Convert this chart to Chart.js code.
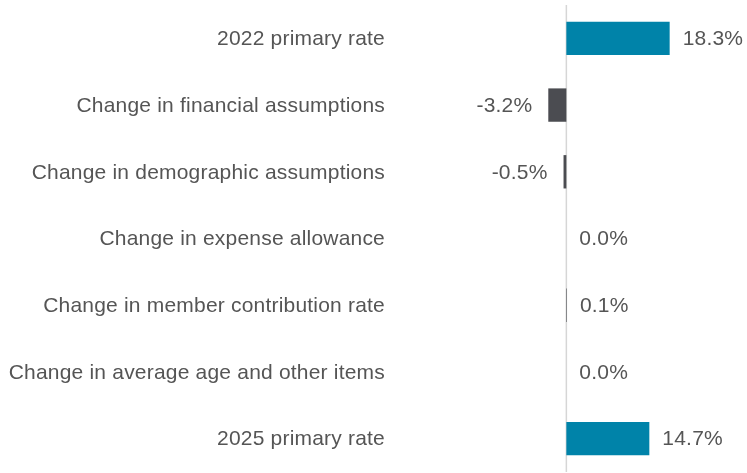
<!DOCTYPE html>
<html>
<head>
<meta charset="utf-8">
<script src="https://cdn.jsdelivr.net/npm/chart.js@4"></script>
<style>
  html, body { margin: 0; padding: 0; background: #fff; }
  #wrap { position: relative; width: 747px; height: 473px; }
</style>
</head>
<body>
<div id="wrap"><canvas id="chart"></canvas></div>
<script>
// ── data ──
const categories = [
  '2022 primary rate',
  'Change in financial assumptions',
  'Change in demographic assumptions',
  'Change in expense allowance',
  'Change in member contribution rate',
  'Change in average age and other items',
  '2025 primary rate'
]
const values = [18.3, -3.2, -0.5, 0.0, 0.1, 0.0, 14.7]
const totalRows = [0, 6]

const TEAL = '#0083a9'
const DARK = '#4b4c51'
const TEXT = '#555555'
const FONT = '21px "Liberation Sans", Arial, sans-serif'

// zero line, category labels and value labels
const decor = {
  id: 'decor',
  beforeDatasetsDraw(chart) {
    const { ctx, chartArea } = chart
    const x0 = chart.scales.x.getPixelForValue(0)
    ctx.save()
    ctx.strokeStyle = '#d6d6d6'
    ctx.lineWidth = 1.5
    ctx.beginPath()
    ctx.moveTo(x0, chartArea.top)
    ctx.lineTo(x0, chartArea.bottom)
    ctx.stroke()
    ctx.restore()
  },
  afterDatasetsDraw(chart) {
    const { ctx, chartArea } = chart
    const y = chart.scales.y
    const x0 = chart.scales.x.getPixelForValue(0)
    const meta = chart.getDatasetMeta(0)
    ctx.save()
    ctx.font = FONT
    ctx.letterSpacing = '0.2px'
    ctx.fillStyle = TEXT
    ctx.textBaseline = 'middle'
    categories.forEach((c, i) => {
      ctx.textAlign = 'right'
      ctx.fillText(c, chartArea.left - 12, y.getPixelForValue(i) + 1)
    })
    meta.data.forEach((bar, i) => {
      const v = values[i]
      const txt = v.toFixed(1) + '%'
      if (v < 0) {
        ctx.textAlign = 'right'
        ctx.fillText(txt, Math.min(bar.x, x0) - 16, bar.y + 1)
      } else {
        ctx.textAlign = 'left'
        ctx.fillText(txt, Math.max(bar.x, x0) + 13, bar.y + 1)
      }
    })
    ctx.restore()
  }
}

new Chart(document.getElementById('chart'), {
  type: 'bar',
  data: {
    labels: categories,
    datasets: [{
      data: values,
      backgroundColor: values.map((_, i) => totalRows.includes(i) ? TEAL : DARK),
      borderWidth: 0,
      barPercentage: 0.5,
      categoryPercentage: 1
    }]
  },
  options: {
    indexAxis: 'y',
    responsive: true, maintainAspectRatio: false,
    animation: false,
    layout: { padding: { top: 5, bottom: 1, left: 0, right: 0 } },
    plugins: { legend: { display: false }, tooltip: { enabled: false } },
    scales: {
      x: { display: false, min: -30, max: 32 },
      y: {
        afterFit: s => { s.width = 397 },
        border: { display: false },
        grid: { display: false },
        ticks: { display: false }
      }
    }
  },
  plugins: [decor]
})
</script>
</body>
</html>
